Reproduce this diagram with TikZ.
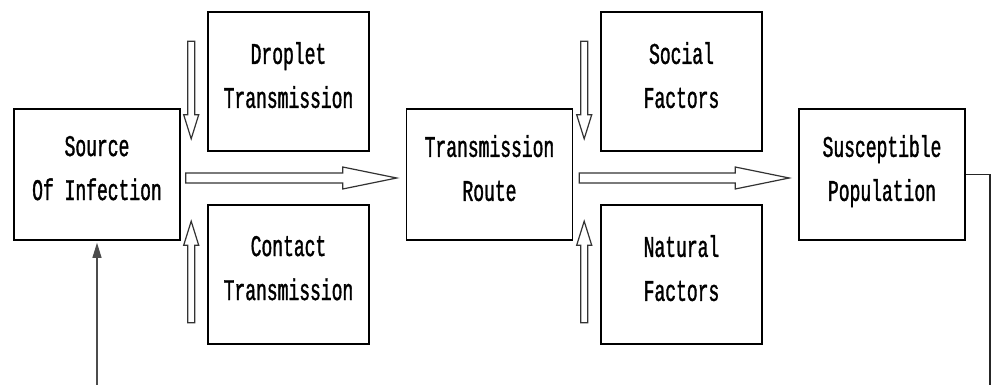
\documentclass[tikz,border=0pt]{standalone}
\usepackage{fontspec}
\usepackage{tikz}
\usetikzlibrary{arrows.meta}
\usetikzlibrary{calc}
\newfontfamily\boxfont[FakeStretch=0.6, FakeBold=1.2]{Liberation Mono}

% hollow block arrows, from #1 to the tip #2
\newcommand{\harrow}[2]{%
  \draw[hollow] let \p1=(#1), \p2=(#2) in
    (\x1,\y1-2.5pt) -- (\x2-27pt,\y1-2.5pt) -- (\x2-27pt,\y1-5.5pt) -- (\x2,\y1)
    -- (\x2-27pt,\y1+5.5pt) -- (\x2-27pt,\y1+2.5pt) -- (\x1,\y1+2.5pt) -- cycle;}
\newcommand{\varrow}[2]{%
  \draw[hollow] let \p1=(#1), \p2=(#2), \n1={sign(\y2-\y1)} in
    (\x1-1.75pt,\y1) -- (\x1-1.75pt,{\y2-\n1*12pt}) -- (\x1-3.75pt,{\y2-\n1*12pt}) -- (\x1,\y2)
    -- (\x1+3.75pt,{\y2-\n1*12pt}) -- (\x1+1.75pt,{\y2-\n1*12pt}) -- (\x1+1.75pt,\y1) -- cycle;}

\begin{document}
\begin{tikzpicture}[x=0.5pt, y=-0.5pt,
    every node/.style={draw, rectangle, line width=0.8pt, align=center,
      font=\boxfont\fontsize{15}{22}\selectfont, text depth=6.5pt},
    main/.style={minimum width=83pt, minimum height=65.5pt},
    factor/.style={minimum width=80.5pt, minimum height=69.5pt},
    hollow/.style={draw=black!80, line width=0.6pt, fill=white}]
  \useasboundingbox (0,0) rectangle (992,385);
  % Nodes
  \node[main] (1) at (97,174.5) {Source\\Of Infection};
  \node[factor] (2) at (288.5,81.5) {Droplet\\Transmission};
  \node[factor] (3) at (288.5,274.5) {Contact\\Transmission};
  \node[main] (4) at (489.5,174.5) {Transmission\\Route};
  \node[factor] (5) at (681.5,81.5) {Social\\Factors};
  \node[factor] (6) at (681.5,274.5) {Natural\\Factors};
  \node[main] (7) at (882,174.5) {Susceptible\\Population};
  \coordinate (in) at (97,385);
  \coordinate (out) at (990,385);
  % Block arrows
  \harrow{$(1.east)+(5,3.5)$}{$(4.west)+(-9,3.5)$}
  \harrow{$(4.east)+(6,3.5)$}{$(7.west)+(-9,3.5)$}
  \varrow{$(2.north west)+(-16,30)$}{$(2.south west)+(-16,-13)$}
  \varrow{$(3.south west)+(-16,-22)$}{$(3.north west)+(-16,17)$}
  \varrow{$(5.north west)+(-16,30)$}{$(5.south west)+(-16,-13)$}
  \varrow{$(6.south west)+(-16,-22)$}{$(6.north west)+(-16,17)$}
  % Feedback lines
  \draw[black!70, line width=0.6pt, -{Triangle[length=7.5pt, width=4.5pt]}, shorten >=1pt] (in) -- (1.south);
  \draw[black!85, line width=0.6pt] (7.east) -| (out);
\end{tikzpicture}
\end{document}
